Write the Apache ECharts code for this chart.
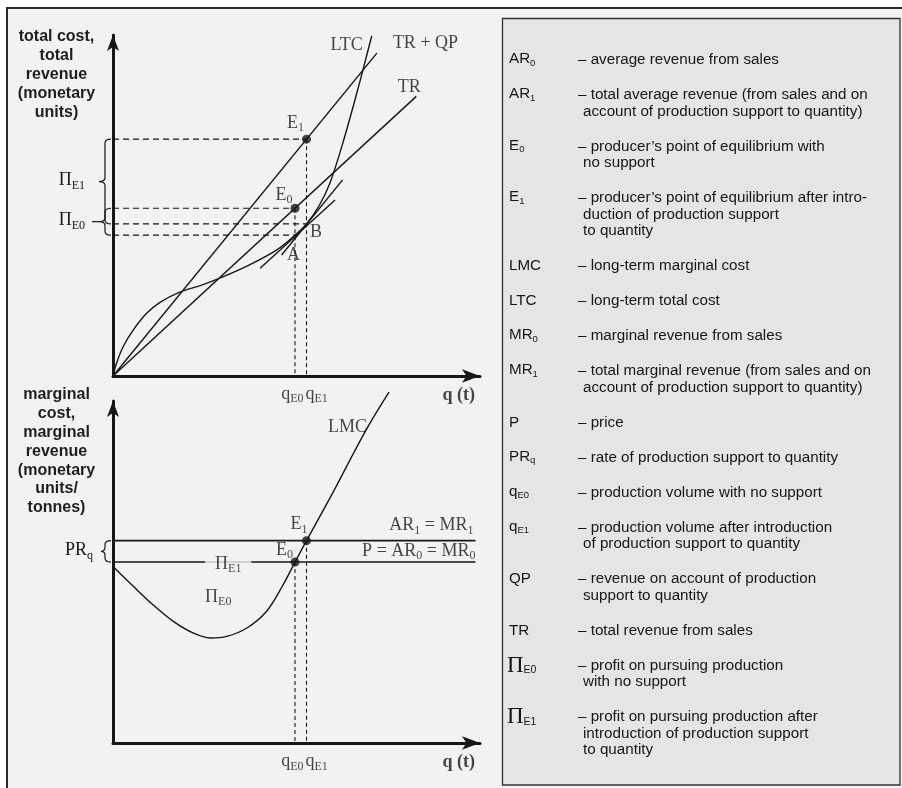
<!DOCTYPE html>
<html>
<head>
<meta charset="utf-8">
<script src="https://cdn.jsdelivr.net/npm/echarts@6/dist/echarts.min.js"></script>
<style>
html,body{margin:0;padding:0;background:#fff;}
#chart{width:902px;height:788px;}
</style>
</head>
<body>
<div id="chart"></div>
<script>
// ---------------- data ----------------
// Upper panel: total cost / total revenue (monetary units) against q (t)
const qE0 = 6.0;
const qE1 = 6.38;
const trLine   = [[0, 0], [10.0, 82.0]];          // TR
const trQpLine = [[0, 0], [8.7, 94.7]];           // TR + QP
const ltcQ = [0, 0.12, 0.33, 0.67, 1.1, 1.55, 2.2, 2.9, 3.6, 4.5, 5.4, 6.0, 6.38, 6.8, 7.15, 7.6, 8.1, 8.53];
const ltcV = [0, 3.8, 8.5, 13.5, 18.3, 21.6, 24.6, 26.6, 29.0, 32.6, 37.0, 41.3, 44.6, 50.0, 56.5, 69.0, 85.0, 99.7];
const tangentA = [[4.85, 31.6], [7.32, 51.6]];    // tangent to LTC at A (parallel to TR)
const tangentB = [[5.56, 35.5], [7.57, 57.5]];    // tangent to LTC at B (parallel to TR + QP)
const topPointNames = ['E0', 'E1', 'A', 'B'];
const topPointQ = [6.0, 6.38, 6.0, 6.38];
const topPointV = [49.2, 69.45, 41.3, 44.6];

// Lower panel: marginal cost / marginal revenue (monetary units / tonnes)
const lmcQ = [0, 0.67, 1.33, 2.0, 2.65, 3.2, 3.75, 4.4, 5.05, 5.6, 6.0, 6.38, 7.25, 8.35, 9.1];
const lmcV = [8.0, 7.1, 6.25, 5.5, 4.98, 4.76, 4.83, 5.2, 5.95, 7.15, 8.2, 9.17, 11.35, 14.2, 15.9];
const priceAR0 = 8.2;    // P = AR0 = MR0
const priceAR1 = 9.17;   // AR1 = MR1
const revenueLineEnd = 11.95;
const bottomPointQ = [6.0, 6.38];
const bottomPointV = [8.2, 9.17];

// Legend (glossary)
const legendKeys = [['AR','0'],['AR','1'],['E','0'],['E','1'],['LMC',''],['LTC',''],['MR','0'],['MR','1'],
  ['P',''],['PR','q'],['q','E0'],['q','E1'],['QP',''],['TR',''],['Π','E0'],['Π','E1']];
const legendText = [
  ['– average revenue from sales'],
  ['– total average revenue (from sales and on', 'account of production support to quantity)'],
  ['– producer’s point of equilibrium with', 'no support'],
  ['– producer’s point of equilibrium after intro-', 'duction of production support', 'to quantity'],
  ['– long-term marginal cost'],
  ['– long-term total cost'],
  ['– marginal revenue from sales'],
  ['– total marginal revenue (from sales and on', 'account of production support to quantity)'],
  ['– price'],
  ['– rate of production support to quantity'],
  ['– production volume with no support'],
  ['– production volume after introduction', 'of production support to quantity'],
  ['– revenue on account of production', 'support to quantity'],
  ['– total revenue from sales'],
  ['– profit on pursuing production', 'with no support'],
  ['– profit on pursuing production after', 'introduction of production support', 'to quantity']
];
const topAxisTitle = 'total cost,\ntotal\nrevenue\n(monetary\nunits)';
const bottomAxisTitle = 'marginal\ncost,\nmarginal\nrevenue\n(monetary\nunits/\ntonnes)';

// ---------------- styling ----------------
const SERIF = '"Liberation Serif", "Times New Roman", serif';
const SANS = '"Liberation Sans", Arial, Helvetica, sans-serif';
const INK = '#161616';
const BG = '#f1f2f1';
const LEG_BG = '#e4e5e5';
const X_MAX = 12.1, TOP_YMAX = 100, BOT_YMAX = 15.5;

const RICH_L = {
  m: {fontFamily: SERIF, fontSize: 18, color: INK, verticalAlign: 'top'},
  s: {fontFamily: SERIF, fontSize: 12, color: INK, verticalAlign: 'top', padding: [8, 0, 0, 0]},
  b: {fontFamily: SERIF, fontSize: 18, fontWeight: 'bold', color: INK}
};
const RICH_Z = {
  m: {fontFamily: SERIF, fontSize: 18, fill: INK, verticalAlign: 'top'},
  s: {fontFamily: SERIF, fontSize: 12, fill: INK, verticalAlign: 'top', padding: [8, 0, 0, 0]}
};
const LEG_FS = 15.2;
const RICH_LEG = {
  m: {fontFamily: SANS, fontSize: LEG_FS, fill: INK, verticalAlign: 'top'},
  s: {fontFamily: SANS, fontSize: 9.5, fill: INK, verticalAlign: 'top', padding: [6.5, 0, 0, 0]},
  p: {fontFamily: SERIF, fontSize: 23, fill: INK, verticalAlign: 'top'},
  ps: {fontFamily: SANS, fontSize: 10.5, fill: INK, verticalAlign: 'top', padding: [11, 0, 0, 0]}
};

function pts(qs, vs) { return qs.map((q, i) => [q, vs[i]]); }
function line(gi, data, extra) {
  return Object.assign({
    type: 'line', xAxisIndex: gi, yAxisIndex: gi, data: data, showSymbol: false, symbol: 'none',
    silent: true, clip: false, z: 3, lineStyle: {color: INK, width: 1.4}
  }, extra || {});
}
const dashH = {lineStyle: {color: INK, width: 1.2, type: [6, 4]}};
const dashV = {lineStyle: {color: INK, width: 1.1, type: [4, 3]}};

function labelSeries(gi, items) {
  return {
    type: 'scatter', xAxisIndex: gi, yAxisIndex: gi, symbolSize: 0, silent: true, clip: false, z: 7,
    itemStyle: {color: 'rgba(0,0,0,0)'},
    data: items.map(it => ({
      value: it.at,
      label: Object.assign({
        show: true, position: 'inside', formatter: it.text, align: it.align || 'center',
        verticalAlign: 'middle', offset: it.off, rich: RICH_L, fontFamily: SERIF, fontSize: 18, color: INK
      }, it.extra || {})
    }))
  };
}

function braceRenderer(labels, tip, gap) {
  return function (params, api) {
    const a = api.coord([0, api.value(1)]);
    const b = api.coord([0, api.value(2)]);
    const x0 = a[0];
    const top = Math.min(a[1], b[1]), bot = Math.max(a[1], b[1]), mid = (top + bot) / 2;
    const xe = x0 - 2, xs = x0 - 8, xt = x0 - tip;
    const r = Math.min(4, (bot - top) / 4);
    const d = 'M' + xe + ',' + top + ' Q' + xs + ',' + top + ' ' + xs + ',' + (top + r) +
      ' L' + xs + ',' + (mid - r) + ' Q' + xs + ',' + mid + ' ' + xt + ',' + mid +
      ' Q' + xs + ',' + mid + ' ' + xs + ',' + (mid + r) + ' L' + xs + ',' + (bot - r) +
      ' Q' + xs + ',' + bot + ' ' + xe + ',' + bot;
    const lab = labels[params.dataIndex];
    const children = [{type: 'path', shape: {pathData: d}, style: {stroke: INK, fill: 'none', lineWidth: 1.2}}];
    if (lab.dash) children.push({type: 'line', shape: {x1: xt - 7, y1: mid, x2: xt, y2: mid}, style: {stroke: INK, lineWidth: 1.2}});
    children.push({type: 'text', x: xt - gap, y: mid,
      style: {text: lab.text, rich: RICH_Z, align: 'right', verticalAlign: 'middle', fill: INK, fontFamily: SERIF, fontSize: 18}});
    return {type: 'group', children: children};
  };
}

// ---------------- series ----------------
const S = [];
// upper panel
S.push(line(0, trLine));
S.push(line(0, trQpLine));
S.push(line(0, pts(ltcQ, ltcV), {smooth: 0.35}));
S.push(line(0, tangentA));
S.push(line(0, tangentB));
topPointQ.forEach((q, i) => S.push(line(0, [[0, topPointV[i]], [q, topPointV[i]]], dashH)));
[0, 1].forEach(i => S.push(line(0, [[topPointQ[i], topPointV[i]], [topPointQ[i], 0]], dashV)));
S.push({type: 'scatter', xAxisIndex: 0, yAxisIndex: 0, silent: true, z: 6, symbolSize: 9,
  itemStyle: {color: INK}, data: [[topPointQ[0], topPointV[0]], [topPointQ[1], topPointV[1]]]});
S.push({type: 'custom', coordinateSystem: 'cartesian2d', xAxisIndex: 0, yAxisIndex: 0, silent: true, clip: false, z: 5,
  data: [[0, topPointV[1], topPointV[3]], [0, topPointV[0], topPointV[2]]],
  renderItem: braceRenderer([{text: '{m|Π}{s|E1}', dash: false}, {text: '{m|Π}{s|E0}', dash: true}], 14, 14)});
const ltcEnd = [ltcQ[ltcQ.length - 1], ltcV[ltcV.length - 1]];
S.push(labelSeries(0, [
  {at: ltcEnd, text: '{m|LTC}', align: 'right', off: [-9, 9]},
  {at: trQpLine[1], text: '{m|TR + QP}', align: 'left', off: [16, -10]},
  {at: trLine[1], text: '{m|TR}', off: [-7, -9]},
  {at: [topPointQ[1], topPointV[1]], text: '{m|E}{s|1}', off: [-11, -15]},
  {at: [topPointQ[0], topPointV[0]], text: '{m|E}{s|0}', off: [-11, -12]},
  {at: [topPointQ[3], topPointV[3]], text: '{m|B}', off: [9.5, 8]},
  {at: [topPointQ[2], topPointV[2]], text: '{m|A}', off: [-1.5, 20]},
  {at: [qE0, 0], text: '{m|q}{s|E0}', align: 'right', off: [8.5, 19]},
  {at: [qE1, 0], text: '{m|q}{s|E1}', align: 'left', off: [-1, 19]},
  {at: [X_MAX, 0], text: '{b|q (t)}', align: 'right', off: [-5, 19]}
]));

// lower panel
S.push(line(1, pts(lmcQ, lmcV), {smooth: 0.35}));
S.push(line(1, [[0, priceAR1], [revenueLineEnd, priceAR1]], {lineStyle: {color: INK, width: 1.6}}));
S.push(line(1, [[0, priceAR0], [revenueLineEnd, priceAR0]], {lineStyle: {color: INK, width: 1.6}}));
[0, 1].forEach(i => S.push(line(1, [[bottomPointQ[i], bottomPointV[i]], [bottomPointQ[i], 0]], dashV)));
S.push({type: 'scatter', xAxisIndex: 1, yAxisIndex: 1, silent: true, z: 6, symbolSize: 9,
  itemStyle: {color: INK}, data: pts(bottomPointQ, bottomPointV)});
S.push({type: 'custom', coordinateSystem: 'cartesian2d', xAxisIndex: 1, yAxisIndex: 1, silent: true, clip: false, z: 5,
  data: [[0, priceAR1, priceAR0]],
  renderItem: braceRenderer([{text: '{m|PR}{s|q}', dash: false}], 12, 8)});
const lmcEnd = [lmcQ[lmcQ.length - 1], lmcV[lmcV.length - 1]];
S.push(labelSeries(1, [
  {at: lmcEnd, text: '{m|LMC}', align: 'right', off: [-22, 35]},
  {at: [bottomPointQ[1], bottomPointV[1]], text: '{m|E}{s|1}', off: [-7.5, -15]},
  {at: [bottomPointQ[0], bottomPointV[0]], text: '{m|E}{s|0}', off: [-10.5, -11]},
  {at: [revenueLineEnd, priceAR1], text: '{m|AR}{s|1}{m| = MR}{s|1}', align: 'right', off: [-2, -14]},
  {at: [revenueLineEnd, priceAR0], text: '{m|P = AR}{s|0}{m| = MR}{s|0}', align: 'right', off: [0, -10]},
  {at: [3.8, priceAR0], text: '{m|Π}{s|E1}', off: [0, 3],
    extra: {backgroundColor: BG, padding: [0, 10, 0, 10]}},
  {at: [3.47, priceAR0], text: '{m|Π}{s|E0}', off: [0, 36]},
  {at: [qE0, 0], text: '{m|q}{s|E0}', align: 'right', off: [8.5, 19.5]},
  {at: [qE1, 0], text: '{m|q}{s|E1}', align: 'left', off: [-1, 19.5]},
  {at: [X_MAX, 0], text: '{b|q (t)}', align: 'right', off: [-5, 19.5]}
]));

// ---------------- graphics: frame, axis titles, glossary ----------------
const G = [
  {type: 'rect', z: -10, silent: true, shape: {x: 7, y: 8, width: 905, height: 800},
    style: {fill: BG, stroke: '#2a2a2a', lineWidth: 2}},
  {type: 'rect', z: -9, silent: true, shape: {x: 502.5, y: 18.5, width: 397.5, height: 766.5},
    style: {fill: LEG_BG, stroke: '#333', lineWidth: 1.3}},
  {type: 'text', z: 10, x: 56.5, y: 27.5, silent: true,
    style: {text: topAxisTitle, fontFamily: SANS, fontSize: 16, fontWeight: 'bold', fill: '#1e1e1e',
      align: 'center', verticalAlign: 'top', lineHeight: 19}},
  {type: 'text', z: 10, x: 56.5, y: 385.5, silent: true,
    style: {text: bottomAxisTitle, fontFamily: SANS, fontSize: 16, fontWeight: 'bold', fill: '#1e1e1e',
      align: 'center', verticalAlign: 'top', lineHeight: 18.8}}
];
let ly = 60;
const LINE_STEP = 16.5, ENTRY_GAP = 35;
legendKeys.forEach((k, i) => {
  const isPi = k[0] === 'Π';
  let key = isPi ? '{p|Π}' : '{m|' + k[0] + '}';
  if (k[1]) key += isPi ? '{ps|' + k[1] + '}' : '{s|' + k[1] + '}';
  G.push({type: 'text', z: 10, x: isPi ? 507 : 509, y: ly, silent: true,
    style: {text: key, rich: RICH_LEG, fill: INK, fontFamily: SANS, fontSize: LEG_FS, align: 'left', verticalAlign: 'middle'}});
  legendText[i].forEach((t, j) => {
    G.push({type: 'text', z: 10, x: j === 0 ? 578 : 583, y: ly + j * LINE_STEP, silent: true,
      style: {text: t, fill: INK, fontFamily: SANS, fontSize: LEG_FS, align: 'left', verticalAlign: 'middle'}});
  });
  ly += (legendText[i].length - 1) * LINE_STEP + ENTRY_GAP;
});

function axisBase(gi, max, isX) {
  return {
    gridIndex: gi, type: 'value', min: 0, max: max,
    axisLine: {show: true, onZero: false, symbol: ['none', 'arrow'], symbolSize: isX ? [10, 18] : [9, 16],
      lineStyle: {color: INK, width: 3}},
    axisTick: {show: false}, axisLabel: {show: false}, splitLine: {show: false}
  };
}

const chart = echarts.init(document.getElementById('chart'), null, {renderer: 'canvas'});
chart.setOption({
  animation: false,
  backgroundColor: '#ffffff',
  grid: [
    {left: 113, top: 35, width: 367, height: 341},
    {left: 113, top: 401, width: 367, height: 342}
  ],
  xAxis: [axisBase(0, X_MAX, true), axisBase(1, X_MAX, true)],
  yAxis: [axisBase(0, TOP_YMAX, false), axisBase(1, BOT_YMAX, false)],
  graphic: {elements: G},
  series: S
});
</script>
</body>
</html>
